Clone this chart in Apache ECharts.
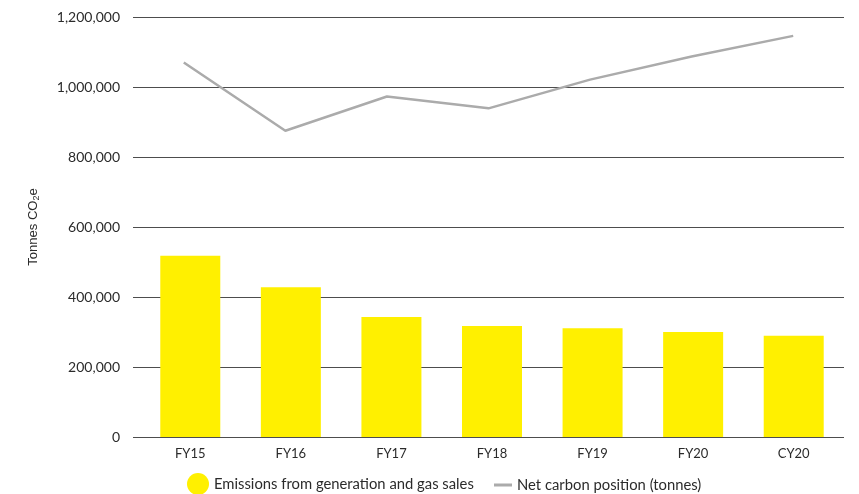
<!DOCTYPE html>
<html>
<head>
<meta charset="utf-8">
<script src="https://cdn.jsdelivr.net/npm/echarts@6/dist/echarts.min.js"></script>
<style>
  html, body { margin: 0; padding: 0; background: #ffffff; }
  #chart { width: 859px; height: 494px; }
</style>
</head>
<body>
<div id="chart"></div>
<script>
// Reporting periods
var categories = ['FY15', 'FY16', 'FY17', 'FY18', 'FY19', 'FY20', 'CY20'];
// Emissions from generation and gas sales (tonnes CO2e)
var emissions = [518000, 428000, 343000, 317000, 311000, 300000, 289000];
// Net carbon position (tonnes)
var netCarbon = [1070000, 875000, 973000, 939000, 1021000, 1087000, 1146000];
// Value axis range
var yMin = 0, yMax = 1200000, yStep = 200000;

var FONT = 'Lato, "Noto Sans", sans-serif';
var TEXT = '#2b2b2b';
var GRID_LINE = '#4d4d4d';
var LINE_GREY = '#ababab';

var chart = echarts.init(document.getElementById('chart'));
chart.setOption({
  animation: false,
  backgroundColor: '#ffffff',
  textStyle: { fontFamily: FONT },
  grid: [
    { left: 133, right: 15, top: 17, bottom: 57 },
    { left: 140, right: 15, top: 17, bottom: 57 }
  ],
  xAxis: [
    {
      gridIndex: 0, type: 'category', data: categories, show: false
    },
    {
      gridIndex: 1, type: 'category', data: categories,
      axisLine: { show: false },
      axisTick: { show: false },
      axisLabel: { color: TEXT, fontSize: 13, fontFamily: FONT, margin: 10 }
    }
  ],
  yAxis: [
    {
      gridIndex: 0, type: 'value', min: yMin, max: yMax, interval: yStep,
      name: 'Tonnes CO{sub|2}e',
      nameLocation: 'middle', nameRotate: 90, nameGap: 92,
      nameTextStyle: {
        color: TEXT, fontSize: 13, fontFamily: '"Liberation Sans", Arial, sans-serif',
        rich: {
          sub: { fontSize: 9, color: TEXT, fontFamily: '"Liberation Sans", Arial, sans-serif', padding: [7, 0, 0, 0] }
        }
      },
      axisLine: { show: false },
      axisTick: { show: false },
      axisLabel: {
        color: TEXT, fontSize: 14, fontFamily: FONT, margin: 13,
        formatter: function (v) { return v.toLocaleString('en-US'); }
      },
      splitLine: { show: true, lineStyle: { color: GRID_LINE, width: 1.2 } }
    },
    {
      gridIndex: 1, type: 'value', min: yMin, max: yMax, interval: yStep, show: false,
      splitLine: { show: false }
    }
  ],
  legend: [
    {
      data: [{ name: 'Emissions from generation and gas sales', icon: 'circle' }],
      left: 182, top: 468,
      itemWidth: 22, itemHeight: 22,
      textStyle: { color: TEXT, fontSize: 14.8, fontFamily: FONT }
    },
    {
      data: [{ name: 'Net carbon position (tonnes)', icon: 'rect' }],
      left: 489, top: 472.5,
      itemWidth: 18, itemHeight: 3,
      textStyle: { color: TEXT, fontSize: 14.8, fontFamily: FONT }
    }
  ],
  series: [
    {
      name: 'Emissions from generation and gas sales',
      type: 'bar',
      xAxisIndex: 1, yAxisIndex: 1,
      data: emissions,
      barWidth: 60,
      itemStyle: { color: '#FFF000' }
    },
    {
      name: 'Net carbon position (tonnes)',
      type: 'line',
      xAxisIndex: 0, yAxisIndex: 0,
      data: netCarbon,
      symbol: 'none',
      lineStyle: { color: LINE_GREY, width: 2.5 },
      itemStyle: { color: LINE_GREY }
    }
  ]
});
</script>
</body>
</html>
